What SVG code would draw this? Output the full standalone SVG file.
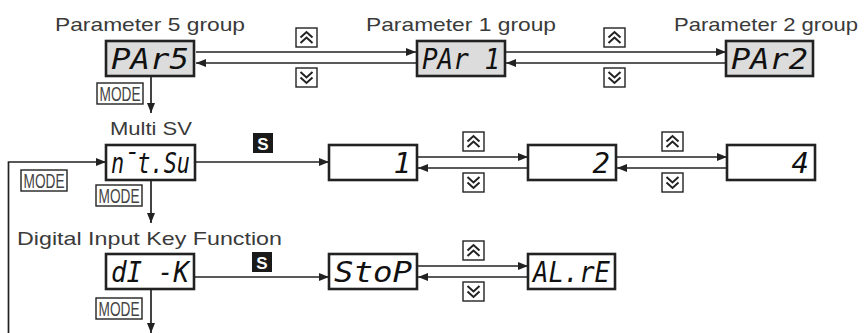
<svg xmlns="http://www.w3.org/2000/svg" xmlns:xlink="http://www.w3.org/1999/xlink" width="864" height="333" viewBox="0 0 864 333">
<style>
.lbl{font-family:"Liberation Sans",Arial,sans-serif;font-size:19px;fill:#3a3a3a}
.disp{stroke:#222;stroke-width:2.6;fill:#fff}
.gray{fill:#dcdcdc}
.seg{font-family:"DejaVu Sans Mono",monospace;font-style:oblique;font-size:29px;fill:#111}
.conn{stroke:#222;stroke-width:1.7;fill:none}
.mode{fill:#fff;stroke:#222;stroke-width:1.4}
.modet{font-family:"Liberation Sans",Arial,sans-serif;font-size:20px;fill:#444}
.key{fill:#fff;stroke:#222;stroke-width:1.4}
.chev{fill:none;stroke:#222;stroke-width:2}
.sbox{fill:#1a1a1a}
.st{font-family:"Liberation Sans",Arial,sans-serif;font-weight:bold;font-size:17px;fill:#fff}
</style>
<defs>
<marker id="ah" markerWidth="10" markerHeight="8" refX="10" refY="4" orient="auto" markerUnits="userSpaceOnUse">
<path d="M0 0 L10 4 L0 8 Z" fill="#222"/>
</marker>
<g id="up"><rect class="key" x="0" y="0" width="21" height="19"/><path class="chev" d="M4.5 9.5 L10.5 4 L16.5 9.5 M4.5 15 L10.5 9.5 L16.5 15"/></g>
<g id="dn"><rect class="key" x="0" y="0" width="21" height="19"/><path class="chev" d="M4.5 4 L10.5 9.5 L16.5 4 M4.5 9.5 L10.5 15 L16.5 9.5"/></g>
<g id="md"><rect class="mode" x="0" y="0" width="46" height="21"/><text class="modet" x="23" y="18" text-anchor="middle" textLength="41" lengthAdjust="spacingAndGlyphs">MODE</text></g>
<g id="sk"><rect class="sbox" x="0" y="0" width="20" height="20"/><text class="st" x="10" y="16.5" text-anchor="middle">S</text></g>
</defs>

<g id="connectors">
<path class="conn" d="M196 52 H416" marker-end="url(#ah)"/>
<path class="conn" d="M416 63 H196" marker-end="url(#ah)"/>
<path class="conn" d="M506 52 H726" marker-end="url(#ah)"/>
<path class="conn" d="M726 63 H506" marker-end="url(#ah)"/>
<path class="conn" d="M151 77 V113" marker-end="url(#ah)"/>
<path class="conn" d="M8.5 333 V162 H106" marker-end="url(#ah)"/>
<path class="conn" d="M196 162 H329" marker-end="url(#ah)"/>
<path class="conn" d="M418 157 H528" marker-end="url(#ah)"/>
<path class="conn" d="M528 168 H418" marker-end="url(#ah)"/>
<path class="conn" d="M617 157 H727" marker-end="url(#ah)"/>
<path class="conn" d="M727 168 H617" marker-end="url(#ah)"/>
<path class="conn" d="M151 181 V223" marker-end="url(#ah)"/>
<path class="conn" d="M195 277 H329" marker-end="url(#ah)"/>
<path class="conn" d="M418 266 H528" marker-end="url(#ah)"/>
<path class="conn" d="M528 277 H418" marker-end="url(#ah)"/>
<path class="conn" d="M151 290 V333" marker-end="url(#ah)"/>
</g>

<g id="keys">
<use xlink:href="#up" x="296" y="28"/><use xlink:href="#dn" x="296" y="68"/>
<use xlink:href="#up" x="604" y="28"/><use xlink:href="#dn" x="604" y="68"/>
<use xlink:href="#up" x="463" y="132"/><use xlink:href="#dn" x="463" y="173"/>
<use xlink:href="#up" x="662" y="132"/><use xlink:href="#dn" x="662" y="173"/>
<use xlink:href="#up" x="463" y="241"/><use xlink:href="#dn" x="463" y="282"/>
<use xlink:href="#sk" x="253" y="133"/>
<use xlink:href="#sk" x="252" y="252"/>
<use xlink:href="#md" x="97" y="83"/>
<use xlink:href="#md" x="21" y="170"/>
<use xlink:href="#md" x="96" y="185"/>
<use xlink:href="#md" x="96" y="298"/>
</g>

<g id="par5">
<text class="lbl" x="55" y="31" textLength="190" lengthAdjust="spacingAndGlyphs">Parameter 5 group</text>
<rect class="disp gray" x="106" y="41" width="88" height="35"/>
<text class="seg" x="111" y="69" textLength="78" lengthAdjust="spacingAndGlyphs">PAr5</text>
</g>
<g id="par1">
<text class="lbl" x="366" y="31" textLength="190" lengthAdjust="spacingAndGlyphs">Parameter 1 group</text>
<rect class="disp gray" x="417" y="41" width="88" height="35"/>
<text class="seg" x="422" y="69" textLength="78" lengthAdjust="spacingAndGlyphs">PAr 1</text>
</g>
<g id="par2">
<text class="lbl" x="674" y="31" textLength="184" lengthAdjust="spacingAndGlyphs">Parameter 2 group</text>
<rect class="disp gray" x="726" y="41" width="87" height="35"/>
<text class="seg" x="731" y="69" textLength="77" lengthAdjust="spacingAndGlyphs">PAr2</text>
</g>
<g id="mtsv">
<text class="lbl" x="110" y="135" textLength="82" lengthAdjust="spacingAndGlyphs">Multi SV</text>
<rect class="disp" x="106" y="145" width="89" height="35"/>
<text class="seg" x="111" y="173" textLength="79" lengthAdjust="spacingAndGlyphs">n̄t.Su</text>
</g>
<g id="sv1">
<rect class="disp" x="329" y="145" width="88" height="35"/>
<text class="seg" x="411" y="173" text-anchor="end">1</text>
</g>
<g id="sv2">
<rect class="disp" x="528" y="145" width="88" height="35"/>
<text class="seg" x="610" y="173" text-anchor="end">2</text>
</g>
<g id="sv4">
<rect class="disp" x="727" y="145" width="88" height="35"/>
<text class="seg" x="809" y="173" text-anchor="end">4</text>
</g>
<g id="dik">
<text class="lbl" x="17" y="245" textLength="265" lengthAdjust="spacingAndGlyphs">Digital Input Key Function</text>
<rect class="disp" x="106" y="254" width="88" height="35"/>
<text class="seg" x="111" y="282" textLength="78" lengthAdjust="spacingAndGlyphs">dI -K</text>
</g>
<g id="stop">
<rect class="disp" x="329" y="254" width="88" height="35"/>
<text class="seg" x="334" y="282" textLength="78" lengthAdjust="spacingAndGlyphs">StoP</text>
</g>
<g id="alre">
<rect class="disp" x="528" y="254" width="87" height="35"/>
<text class="seg" x="533" y="282" textLength="77" lengthAdjust="spacingAndGlyphs">AL.rE</text>
</g>
</svg>
